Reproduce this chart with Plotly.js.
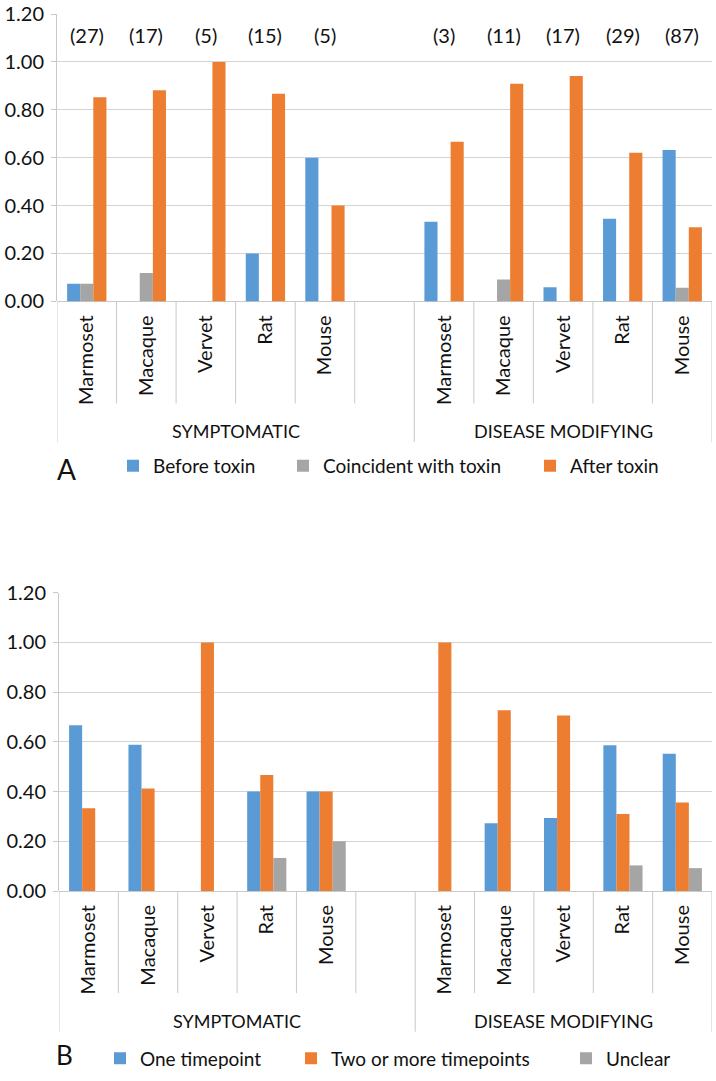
<!DOCTYPE html>
<html>
<head>
<meta charset="utf-8">
<script src="https://cdn.plot.ly/plotly-3.0.1.min.js"></script>
<style>
  body { margin: 0; background: #fff; }
  #chart { width: 716px; height: 1081px; }
</style>
</head>
<body>
<div id="chart"></div>
<script>
// slots on the category axis: 5 species, one blank slot, 5 species
var slotLabels = ['Marmoset', 'Macaque', 'Vervet', 'Rat', 'Mouse', '',
                  'Marmoset', 'Macaque', 'Vervet', 'Rat', 'Mouse'];
var groupLabels = ['SYMPTOMATIC', 'DISEASE MODIFYING'];
var groupCenters = [2.5, 8];
var groupEdges = [-0.5, 5.5, 10.5];
var xPos = slotLabels.map(function (d, i) { return i; });

// panel A: timing of treatment relative to toxin
var beforeToxin     = [0.074, 0,     0,   0.200, 0.600, null, 0.333, 0,     0.059, 0.345, 0.632];
var coincidentToxin = [0.074, 0.118, 0,   0,     0,     null, 0,     0.091, 0,     0,     0.057];
var afterToxin      = [0.852, 0.882, 1.0, 0.867, 0.400, null, 0.667, 0.909, 0.941, 0.621, 0.310];
var studyCounts     = ['(27)', '(17)', '(5)', '(15)', '(5)', '', '(3)', '(11)', '(17)', '(29)', '(87)'];

// panel B: number of timepoints
var oneTimepoint = [0.667, 0.588, 0,   0.400, 0.400, null, 0,   0.273, 0.294, 0.586, 0.552];
var twoOrMore    = [0.333, 0.412, 1.0, 0.467, 0.400, null, 1.0, 0.727, 0.706, 0.310, 0.356];
var unclear      = [0,     0,     0,   0.133, 0.200, null, 0,   0,     0,     0.103, 0.092];

var BLUE = '#5b9bd5', ORANGE = '#ed7d31', GRAY = '#a5a5a5';
var FONT = 'Lato, "Open Sans", sans-serif';
var TXT = '#111111';
var LINE = '#c9c9c9';

var TOP = 14, BOTTOM = 899;
// page pixel -> paper fraction (plot area spans y TOP..BOTTOM)
function py(p) { return (BOTTOM - p) / (BOTTOM - TOP); }

function barTrace(name, vals, color, xa, ya, leg) {
    return {
        type: 'bar', name: name, x: xPos, y: vals,
        xaxis: xa, yaxis: ya, legend: leg,
        marker: { color: color },
        hoverinfo: 'skip'
    };
}

var data = [
    barTrace('Before toxin', beforeToxin, BLUE, 'x', 'y', 'legend'),
    barTrace('Coincident with toxin', coincidentToxin, GRAY, 'x', 'y', 'legend2'),
    barTrace('After toxin', afterToxin, ORANGE, 'x', 'y', 'legend3'),
    barTrace('One timepoint', oneTimepoint, BLUE, 'x2', 'y2', 'legend4'),
    barTrace('Two or more timepoints', twoOrMore, ORANGE, 'x2', 'y2', 'legend5'),
    barTrace('Unclear', unclear, GRAY, 'x2', 'y2', 'legend6')
];

// divider lines under the category axis
var shapes = [];
[['x', 304], ['x2', 899]].forEach(function (p) {
    var xa = p[0], base = p[1];
    for (var b = -0.5; b <= 10.5; b += 1) {
        var isEdge = groupEdges.indexOf(b) >= 0;
        shapes.push({
            type: 'line', xref: xa, yref: 'paper',
            x0: b, x1: b, y0: py(base), y1: py(base + (isEdge ? 142 : 103)),
            line: { color: LINE, width: 1 }
        });
    }
});

var annotations = [];
// study counts above panel A
studyCounts.forEach(function (t, i) {
    if (!t) return;
    annotations.push({
        xref: 'x', yref: 'y', x: xPos[i], y: 1.1, yshift: 3, text: t, showarrow: false,
        font: { family: FONT, size: 20, color: TXT }
    });
});
// group labels
['x', 'x2'].forEach(function (xa) {
    var ya = xa === 'x' ? 'y' : 'y2';
    groupLabels.forEach(function (g, k) {
        annotations.push({
            xref: xa, yref: ya, x: groupCenters[k], y: 0, yshift: -130,
            text: g, showarrow: false,
            font: { family: FONT, size: 18, color: TXT }
        });
    });
});
// panel letters
annotations.push({ xref: 'paper', yref: 'paper', x: (66 - 57) / 655, y: py(473), xanchor: 'center', yanchor: 'middle',
    text: 'A', showarrow: false, font: { family: FONT, size: 28, color: TXT } });
annotations.push({ xref: 'paper', yref: 'paper', x: (64 - 57) / 655, y: py(1064), xanchor: 'center', yanchor: 'middle',
    text: 'B', showarrow: false, font: { family: FONT, size: 26, color: TXT } });

function xAxis(domain, anchor) {
    return {
        domain: domain, anchor: anchor, range: [-0.5, 10.5],
        tickmode: 'array', tickvals: xPos, ticktext: slotLabels,
        tickangle: -90, ticks: '', ticklabelstandoff: 9,
        showgrid: false, zeroline: false, showline: false,
        tickfont: { family: FONT, size: 20, color: TXT },
        fixedrange: true
    };
}
function yAxis(domain, anchor) {
    return {
        domain: domain, anchor: anchor, range: [0, 1.2001], dtick: 0.2, tick0: 0,
        tickformat: '.2f', ticks: 'outside', ticklen: 5, tickcolor: LINE,
        showline: true, linecolor: LINE, linewidth: 1,
        gridcolor: '#d4d4d4', gridwidth: 1, zeroline: true, zerolinecolor: LINE,
        tickfont: { family: FONT, size: 20, color: TXT }, ticklabelstandoff: 3,
        ticklabeloverflow: 'allow',
        fixedrange: true
    };
}
function legendAt(px, pyy) {
    return {
        orientation: 'h', xref: 'paper', yref: 'paper',
        x: (px - 57) / 655, y: py(pyy), xanchor: 'left', yanchor: 'middle',
        bgcolor: 'rgba(0,0,0,0)', borderwidth: 0,
        font: { family: FONT, size: 19, color: TXT }
    };
}

var layout = {
    width: 716, height: 1081,
    margin: { l: 57, r: 4, t: TOP, b: 1081 - BOTTOM },
    paper_bgcolor: '#ffffff', plot_bgcolor: '#ffffff',
    font: { family: FONT, color: TXT },
    barmode: 'group', bargap: 0.34, bargroupgap: 0,
    showlegend: true,
    xaxis: xAxis([0, 1], 'y'),
    yaxis: yAxis([py(304), 1], 'x'),
    xaxis2: xAxis([2 / 655, 1], 'y2'),
    yaxis2: yAxis([0, py(598)], 'x2'),
    legend: legendAt(113, 470),
    legend2: legendAt(283, 470),
    legend3: legendAt(530, 470),
    legend4: legendAt(100, 1068),
    legend5: legendAt(291, 1068),
    legend6: legendAt(566, 1068),
    shapes: shapes,
    annotations: annotations
};

Plotly.newPlot('chart', data, layout, { displayModeBar: false, staticPlot: true });
</script>
</body>
</html>
